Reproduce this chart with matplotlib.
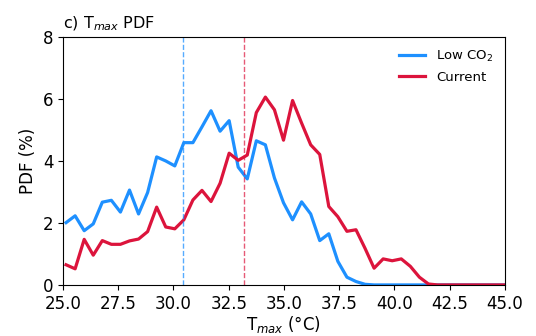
import matplotlib
matplotlib.use("Agg")
import matplotlib.pyplot as plt

# Bin centres (°C)
tmax = [25.14, 25.55, 25.96, 26.37, 26.78, 27.19, 27.60, 28.01, 28.42, 28.83,
        29.24, 29.65, 30.06, 30.47, 30.88, 31.29, 31.70, 32.11, 32.52, 32.93,
        33.34, 33.75, 34.16, 34.57, 34.98, 35.39, 35.80, 36.21, 36.62, 37.03,
        37.44, 37.85, 38.26, 38.67, 39.08, 39.49, 39.90, 40.31, 40.72, 41.13,
        41.54, 41.95, 42.36, 42.77, 43.18, 43.59, 44.00, 44.41, 44.82, 45.23]

pdf_low = [2.01, 2.23, 1.75, 1.97, 2.67, 2.73, 2.35, 3.06, 2.29, 2.98,
           4.13, 4.00, 3.84, 4.59, 4.59, 5.10, 5.62, 4.96, 5.30, 3.80,
           3.42, 4.65, 4.52, 3.45, 2.65, 2.10, 2.68, 2.29, 1.43, 1.65,
           0.76, 0.25, 0.11, 0.02, 0.0, 0.0, 0.0, 0.0, 0.0, 0.0,
           0.0, 0.0, 0.0, 0.0, 0.0, 0.0, 0.0, 0.0, 0.0, 0.0]

pdf_cur = [0.65, 0.52, 1.47, 0.96, 1.43, 1.31, 1.31, 1.42, 1.48, 1.72,
           2.51, 1.87, 1.81, 2.10, 2.74, 3.05, 2.69, 3.28, 4.25, 4.02,
           4.19, 5.56, 6.06, 5.65, 4.67, 5.95, 5.22, 4.52, 4.21, 2.53,
           2.20, 1.73, 1.78, 1.18, 0.54, 0.84, 0.78, 0.84, 0.60, 0.25,
           0.03, 0.0, 0.0, 0.0, 0.0, 0.0, 0.0, 0.0, 0.0, 0.0]

mean_low = 30.43
mean_cur = 33.19

blue = "#1E90FF"
red = "#DC143C"

fig = plt.figure(figsize=(5.36, 3.36), dpi=100)
ax = fig.add_axes([0.1175, 0.152, 0.8245, 0.738])

ax.plot(tmax, pdf_low, color=blue, lw=2.3, label="Low CO$_2$")
ax.plot(tmax, pdf_cur, color=red, lw=2.3, label="Current")
ax.axvline(mean_low, color=blue, lw=1.0, ls="--", alpha=0.75)
ax.axvline(mean_cur, color=red, lw=1.0, ls="--", alpha=0.7)

ax.set_xlim(25, 45)
ax.set_ylim(0, 8)
ax.set_xticks([25.0, 27.5, 30.0, 32.5, 35.0, 37.5, 40.0, 42.5, 45.0])
ax.set_xticklabels(["25.0", "27.5", "30.0", "32.5", "35.0", "37.5", "40.0", "42.5", "45.0"])
ax.set_yticks([0, 2, 4, 6, 8])
ax.tick_params(labelsize=12)
ax.set_xlabel("T$_{max}$ (°C)", fontsize=12, labelpad=1)
ax.set_ylabel("PDF (%)", fontsize=12)
ax.set_title("c) T$_{max}$ PDF", loc="left", fontsize=11.5)
ax.legend(loc="upper right", frameon=False, fontsize=9.5)

fig.savefig("out.png", dpi=100)
